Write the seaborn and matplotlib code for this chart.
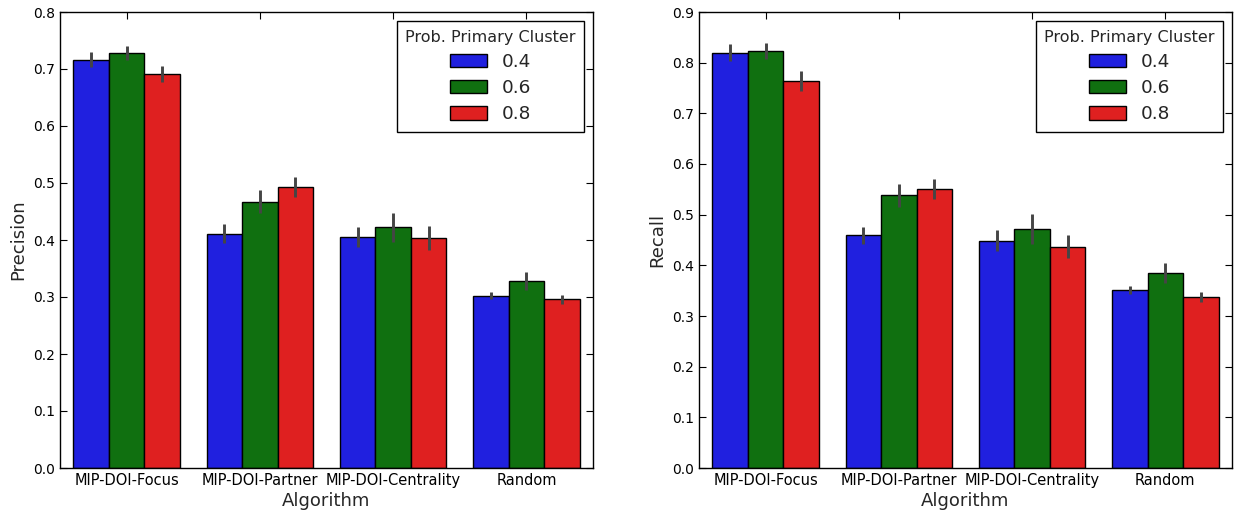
import matplotlib
matplotlib.use("Agg")
from matplotlib import pyplot as plt
from matplotlib.ticker import MultipleLocator
import pandas as pd
import seaborn as sns

algorithms = ["MIP-DOI-Focus", "MIP-DOI-Partner", "MIP-DOI-Centrality", "Random"]
prob_levels = ["0.4", "0.6", "0.8"]

# precision per probability level (one value per algorithm) and half-width of the error bar
precision_04 = [0.716, 0.411, 0.405, 0.302]
precision_06 = [0.728, 0.467, 0.422, 0.328]
precision_08 = [0.692, 0.493, 0.404, 0.296]
precision_err_04 = [0.013, 0.017, 0.018, 0.006]
precision_err_06 = [0.013, 0.020, 0.026, 0.015]
precision_err_08 = [0.014, 0.018, 0.021, 0.008]

recall_04 = [0.820, 0.459, 0.449, 0.351]
recall_06 = [0.823, 0.538, 0.472, 0.385]
recall_08 = [0.764, 0.551, 0.437, 0.337]
recall_err_04 = [0.016, 0.017, 0.020, 0.008]
recall_err_06 = [0.016, 0.023, 0.029, 0.020]
recall_err_08 = [0.020, 0.020, 0.023, 0.010]

colors = ["blue", "green", "red"]

sns.set_style("white")
plt.rcParams.update({
    "font.family": ["DejaVu Sans"],
    "xtick.direction": "in",
    "ytick.direction": "in",
    "xtick.top": True,
    "ytick.right": True,
    "xtick.bottom": True,
    "ytick.left": True,
    "xtick.major.size": 5,
    "ytick.major.size": 5,
    "xtick.color": "black",
    "ytick.color": "black",
    "axes.edgecolor": "black",
    "axes.linewidth": 1.0,
    "xtick.labelsize": 10.5,
    "ytick.labelsize": 10,
    "axes.labelsize": 13,
})


def make_frame(values, errors):
    rows = []
    for level, vals, errs in zip(prob_levels, values, errors):
        for alg, v, e in zip(algorithms, vals, errs):
            rows.append({"Algorithm": alg, "prob": level, "value": v, "err": e})
    return pd.DataFrame(rows)


def draw(ax, df, ylabel, ymax):
    sns.barplot(df, x="Algorithm", y="value", hue="prob", hue_order=prob_levels,
                order=algorithms, palette=colors, errorbar=None,
                edgecolor="black", linewidth=1.0, ax=ax)
    for level, container in zip(prob_levels, ax.containers):
        sub = df[df["prob"] == level].set_index("Algorithm").loc[algorithms]
        xs = [p.get_x() + p.get_width() / 2 for p in container.patches]
        ax.errorbar(xs, sub["value"], yerr=sub["err"], fmt="none",
                    ecolor="#454545", elinewidth=2.1, capsize=0)
    ax.set_xlim(-0.5, len(algorithms) - 0.5)
    ax.set_ylim(0, ymax)
    ax.yaxis.set_major_locator(MultipleLocator(0.1))
    ax.set_ylabel(ylabel)
    ax.set_xlabel("Algorithm", labelpad=3)
    old = ax.get_legend()
    handles = old.legend_handles
    labels = [t.get_text() for t in old.get_texts()]
    leg = ax.legend(handles, labels, title="Prob. Primary Cluster", loc="upper right",
                    fontsize=13.3, title_fontsize=11.5, fancybox=False, framealpha=1,
                    edgecolor="black", handlelength=2.0, handleheight=0.75,
                    handletextpad=0.8, labelspacing=0.45, borderpad=0.45)
    leg.get_frame().set_linewidth(1.0)
    for h in leg.legend_handles:
        h.set_edgecolor("black")
        h.set_linewidth(1.0)
    for s in ax.spines.values():
        s.set_visible(True)
        s.set_color("black")


fig = plt.figure(figsize=(12.42, 5.14), dpi=100)
ax1 = fig.add_axes([60 / 1242, 1 - 468 / 514, 533 / 1242, 456 / 514])
ax2 = fig.add_axes([699 / 1242, 1 - 468 / 514, 533 / 1242, 456 / 514])

draw(ax1, make_frame([precision_04, precision_06, precision_08],
                     [precision_err_04, precision_err_06, precision_err_08]), "Precision", 0.8)
draw(ax2, make_frame([recall_04, recall_06, recall_08],
                     [recall_err_04, recall_err_06, recall_err_08]), "Recall", 0.9)

fig.savefig("out.png", dpi=100)
